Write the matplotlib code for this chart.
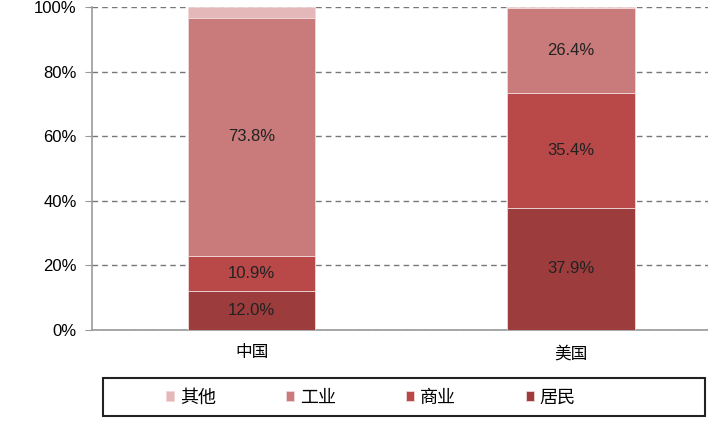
import numpy as np
import matplotlib.pyplot as plt
from matplotlib.patches import Rectangle
from matplotlib.ticker import PercentFormatter

plt.rcParams['font.family'] = ['Liberation Sans', 'Noto Sans CJK SC', 'DejaVu Sans']

countries = ['中国', '美国']
labels = ['居民', '商业', '工业', '其他']
resident = [12.0, 37.9]
commerce = [10.9, 35.4]
industry = [73.8, 26.4]
other = [3.3, 0.3]
colors = ['#9c3c3c', '#b94848', '#c97a7a', '#e4b8b8']

series = [resident, commerce, industry, other]
show_label = [True, True, True, False]

fig = plt.figure(figsize=(7.08, 4.25), dpi=100)
ax = fig.add_axes([92/708, 1 - 330/425, 1 - 92/708, 323/425])

x = np.arange(len(countries))
bottom = np.zeros(len(countries))
handles = []
for vals, c, lab, sl in zip(series, colors, labels, show_label):
    b = ax.bar(x, vals, 0.4, bottom=bottom, color=c, edgecolor='#f0d8d8',
               linewidth=0.6, label=lab, zorder=3)
    handles.append(b)
    if sl:
        for xi, v, b0 in zip(x, vals, bottom):
            ax.text(xi, b0 + v / 2, '%.1f%%' % v, ha='center', va='center',
                    fontsize=12, color='#222222', zorder=4)
    bottom += np.array(vals)

ax.set_xlim(-0.5, 1.43)
ax.set_ylim(0, 100)
ax.set_yticks(np.arange(0, 101, 20))
ax.yaxis.set_major_formatter(PercentFormatter(decimals=0))
ax.set_xticks(x)
ax.set_xticklabels(countries, fontsize=12)
ax.tick_params(axis='x', length=0, pad=11)
ax.tick_params(axis='y', labelsize=12, length=5, color='#999999', direction='out', pad=6)
ax.grid(axis='y', linestyle=(0, (4, 3)), color='#777777', linewidth=1, zorder=1)
for s in ['top', 'right']:
    ax.spines[s].set_visible(False)
ax.spines['left'].set_color('#999999')
ax.spines['bottom'].set_color('#999999')
ax.spines['left'].set_linewidth(1.2)
ax.spines['bottom'].set_linewidth(1.2)

# legend box like the original
fig.patches.append(Rectangle((103/708, 1 - 416/425), 602/708, 38/425,
                             transform=fig.transFigure, fill=False,
                             edgecolor='#222222', linewidth=1.5))
fig.legend(handles[::-1], labels[::-1], loc='center left',
           bbox_to_anchor=(150/708, 1 - 398/425), ncol=4, fontsize=13,
           frameon=False, handlelength=0.45, handleheight=0.45,
           handletextpad=0.3, columnspacing=3.9)

plt.savefig('out.png', dpi=100)
